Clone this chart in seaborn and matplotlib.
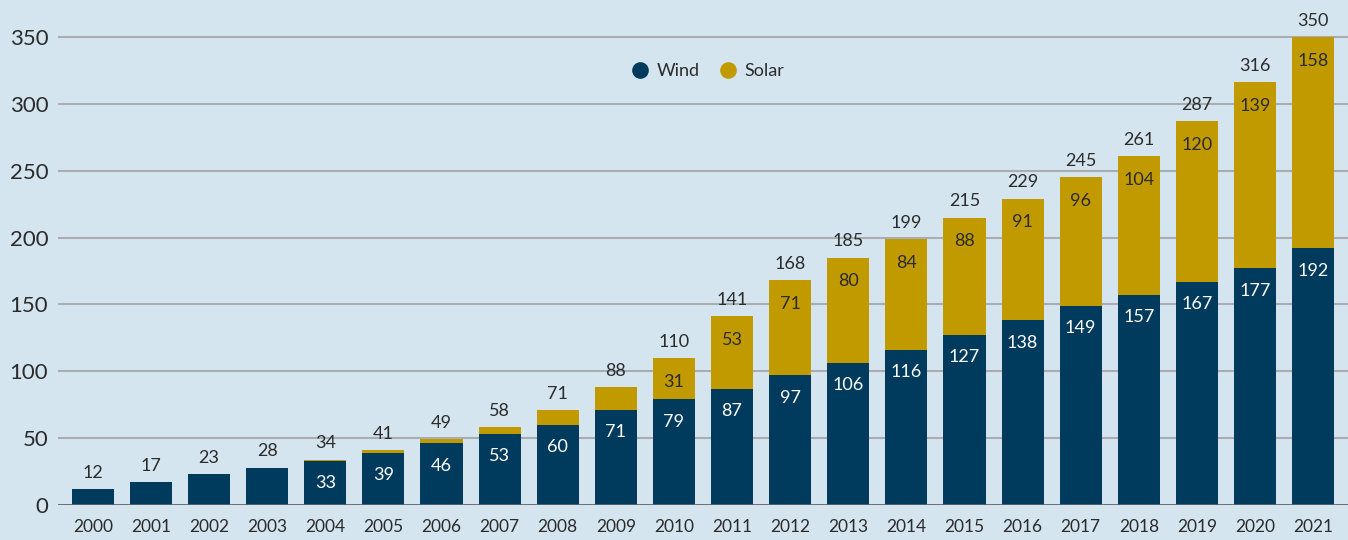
import matplotlib
matplotlib.use("Agg")
import matplotlib.pyplot as plt
from matplotlib.lines import Line2D
import seaborn as sns
import pandas as pd

years = [str(y) for y in range(2000, 2022)]
wind = [12, 17, 23, 28, 33, 39, 46, 53, 60, 71, 79, 87, 97, 106, 116, 127, 138, 149, 157, 167, 177, 192]
solar = [0, 0, 0, 0, 1, 2, 3, 5, 11, 17, 31, 53, 71, 80, 84, 88, 91, 96, 104, 120, 139, 158]
totals = [12, 17, 23, 28, 34, 41, 49, 58, 71, 88, 110, 141, 168, 185, 199, 215, 229, 245, 261, 287, 316, 350]
yticks = [0, 50, 100, 150, 200, 250, 300, 350]

BG = "#d5e5f0"
WIND_C = "#003a5d"
SOLAR_C = "#c19a00"
TXT = "#2b2b2b"

sns.set_theme(style="white")
plt.rcParams["font.family"] = ["Lato", "DejaVu Sans"]

df = pd.DataFrame({"year": years, "wind": wind, "solar": solar, "total": totals})

fig = plt.figure(figsize=(13.48, 5.4), dpi=100, facecolor=BG)
ax = fig.add_axes([58 / 1348, 35 / 540, 1290 / 1348, 505 / 540])
ax.set_facecolor(BG)

# grid
for t in yticks[1:]:
    ax.axhline(t, color="#a9adb0", lw=1.5, zorder=0)

sns.barplot(data=df, x="year", y="total", color=SOLAR_C, width=0.724,
            saturation=1, ax=ax, zorder=2, edgecolor="none")
sns.barplot(data=df, x="year", y="wind", color=WIND_C, width=0.724,
            saturation=1, ax=ax, zorder=3, edgecolor="none")

ax.axhline(0, color="#5f6366", lw=2, zorder=4)

fs = 13
for i in range(len(years)):
    ax.annotate(str(totals[i]), (i, totals[i]), xytext=(0, 6), textcoords="offset points",
                ha="center", va="bottom", fontsize=fs, color=TXT, zorder=5, annotation_clip=False)
    if wind[i] >= 30:
        ax.annotate(str(wind[i]), (i, wind[i]), xytext=(0, -16), textcoords="offset points",
                    ha="center", va="center", fontsize=fs, color="white", zorder=5)
    if solar[i] >= 30:
        ax.annotate(str(solar[i]), (i, totals[i]), xytext=(0, -17), textcoords="offset points",
                    ha="center", va="center", fontsize=fs, color=TXT, zorder=5)

ax.set_xlim(-0.6, 21.6)
ax.set_ylim(0, 377.7)
ax.set_yticks(yticks)
ax.set_yticklabels([str(t) for t in yticks])
ax.set_xlabel("")
ax.set_ylabel("")
ax.tick_params(axis="y", length=0, pad=7, labelsize=16, labelcolor=TXT)
ax.tick_params(axis="x", length=0, pad=10, labelsize=12.5, labelcolor=TXT)
for s in ax.spines.values():
    s.set_visible(False)

handles = [Line2D([0], [0], marker="o", color="none", markerfacecolor=WIND_C, markeredgecolor="none", markersize=12),
           Line2D([0], [0], marker="o", color="none", markerfacecolor=SOLAR_C, markeredgecolor="none", markersize=12)]
leg = ax.legend(handles, ["Wind", "Solar"], loc="center", bbox_to_anchor=(0.503, 0.859), ncol=2,
                frameon=False, fontsize=fs, handletextpad=0.3, columnspacing=1.0, handlelength=1.2)
for t in leg.get_texts():
    t.set_color(TXT)

fig.savefig("out.png", dpi=100, facecolor=BG)
